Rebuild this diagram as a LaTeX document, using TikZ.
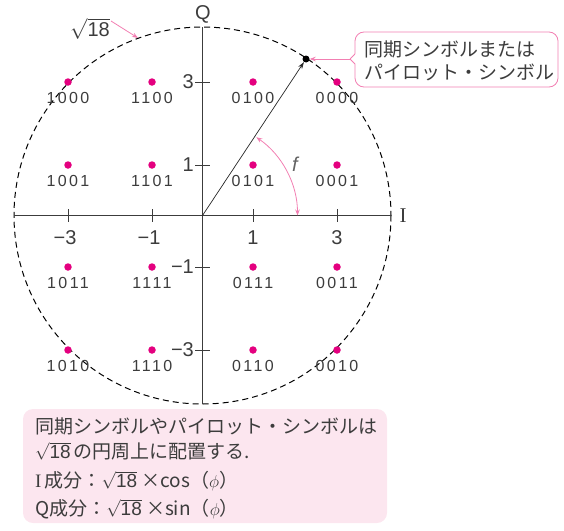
\documentclass[tikz,border=0pt]{standalone}
\usepackage{fontspec}
\setmainfont{Liberation Sans}
\newfontfamily\cjk{Noto Sans CJK JP}
\newfontfamily\lsans{Liberation Sans}
\newfontfamily\bitf[LetterSpace=15]{Liberation Sans}
\newfontfamily\serf{Liberation Serif}
\usetikzlibrary{arrows.meta,calc}
\definecolor{dotc}{HTML}{E4007F}
\definecolor{pinkl}{HTML}{F27FB2}
\definecolor{boxf}{HTML}{FCE6EF}
\definecolor{txt}{HTML}{3C3C3C}
\newcommand{\rteighteen}{$\sqrt{\mbox{\lsans 18}}$}
\begin{document}
\begin{tikzpicture}[x=1pt,y=-1pt,
  cdot/.style={circle,fill=dotc,inner sep=0pt,minimum size=7.5pt},
  bits/.style={font=\bitf\fontsize{16}{16}\selectfont,text=txt,inner sep=0pt},
  ticklbl/.style={font=\fontsize{20}{20}\selectfont,text=txt,inner sep=0pt},
  jp/.style={font=\cjk\fontsize{19}{23}\selectfont,text=txt,inner sep=0pt},
  axisline/.style={draw=txt,line width=0.9pt},
  pinkarrow/.style={draw=pinkl,line width=0.8pt,-{Stealth[length=6pt,width=4.5pt]}},
  callout/.style={draw=pinkl,line width=0.8pt}]
\useasboundingbox (0,0) rectangle (564,530);
\coordinate (O) at (202.5,215.5);
% circle
\draw[dash pattern=on 6pt off 4pt,line width=1pt] (O) circle (188.5);
\coordinate (Ileft) at (14,215.5);
\coordinate (Iright) at (391,215.5);
\coordinate (Qtop) at (202.5,27);
\coordinate (Qbot) at (202.5,404);
\draw[axisline] (Ileft) -- (Iright);
\draw[axisline] (Qtop) -- (Qbot);
% ticks
\foreach \x in {68,152,253,337} \draw[axisline] (\x,209) -- (\x,222);
\foreach \y in {82,165,267,350} \draw[axisline] (195,\y) -- (210,\y);
% tick labels
\node[ticklbl] (tm3) at (65,238) {−3};
\node[ticklbl] (tm1) at (149,238) {−1};
\node[ticklbl] (tp1) at (253,238) {1};
\node[ticklbl] (tp3) at (337,238) {3};
\node[ticklbl,anchor=east] (q3) at (194,82) {3};
\node[ticklbl,anchor=east] (q1) at (194,165) {1};
\node[ticklbl,anchor=east] (qm1) at (194,267) {−1};
\node[ticklbl,anchor=east] (qm3) at (194,350) {−3};
\node[ticklbl] (Qlab) at (203,14) {Q};
\node[ticklbl,font=\serf\fontsize{21}{21}\selectfont] (Ilab) at (403,216) {I};
% constellation
\foreach \x/\y/\b [count=\i] in {68/82/1000,152/82/1100,253/82/0100,337/82/0000,
  68/165/1001,152/165/1101,253/165/0101,337/165/0001,
  68/267/1011,152/267/1111,253/267/0111,337/267/0011,
  68/350/1010,152/350/1110,253/350/0110,337/350/0010}{
  \node[cdot] (d\i) at (\x,\y) {};
  \node[bits] (b\i) at (\x,\y+16) {\b};
}
% sync symbol
\node[circle,fill=black,inner sep=0pt,minimum size=7pt] (S) at (306,59) {};
\draw[line width=0.7pt,draw=black!85,-{Stealth[length=7pt,width=4.5pt]}] (O) -- (S);
% angle
\draw[draw=pinkl,line width=0.8pt,{Stealth[length=6pt,width=4.5pt]}-{Stealth[length=6pt,width=4.5pt]}]
  ($(O)+(95,0)$) arc[start angle=0,end angle=-55.5,radius=95];
\node[ticklbl,text=txt!80,font=\itshape\fontsize{20}{20}\selectfont] (f) at (295,164) {f};
% sqrt18 label
\node[ticklbl] (r18) at (90,29) {\rteighteen};
\coordinate (r18tip) at (138,38);
\draw[pinkarrow] (111,21) -- (r18tip);
% callout box
\draw[callout] (355,64) [rounded corners=0.5pt] -- (350,59) -- (355,54) [rounded corners=9pt] -- (355,32) -- (558,32) -- (558,87) -- (355,87) -- (355,64);
\node[jp,align=left,anchor=west] (cb) at (364,61) {同期シンボルまたは\\パイロット・シンボル};
\coordinate (cbtip) at (350,59);
\draw[pinkarrow] (cbtip) -- (S.east);
% bottom box
\fill[boxf,rounded corners=10pt] (23,409) rectangle (387,523);
\node[jp,anchor=west] (t1) at (35,426) {同期シンボルやパイロット・シンボルは};
\node[jp,anchor=west] (t2) at (35,451) {\rteighteen\,の円周上に配置する.};
\node[jp,anchor=west] (t3) at (35,481) {{\serf I}\,成分：\rteighteen\ ×cos（$\phi$）};
\node[jp,anchor=west] (t4) at (35,509) {Q成分：\rteighteen\ ×sin（$\phi$）};
\end{tikzpicture}
\end{document}
